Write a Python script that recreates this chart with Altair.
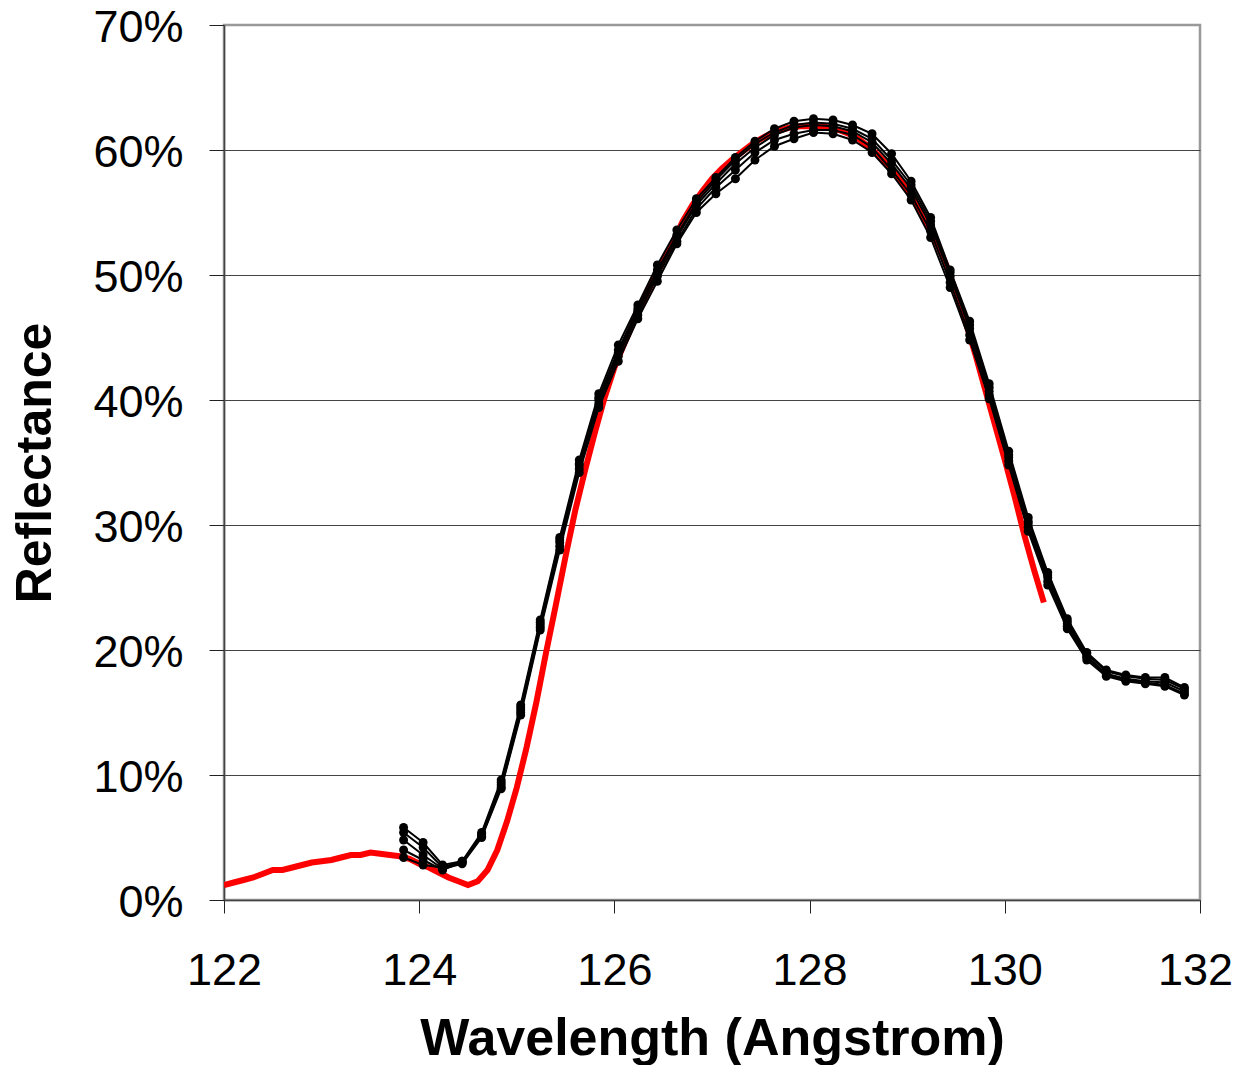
import altair as alt
import pandas as pd

# Measured wavelengths (Angstrom)
x_meas = [123.84, 124.04, 124.24, 124.44, 124.64, 124.84, 125.04, 125.24, 125.44, 125.64,
          125.84, 126.04, 126.24, 126.44, 126.64, 126.84, 127.04, 127.24, 127.44, 127.64,
          127.84, 128.04, 128.24, 128.44, 128.64, 128.84, 129.04, 129.24, 129.44, 129.64,
          129.84, 130.04, 130.24, 130.44, 130.64, 130.84, 131.04, 131.24, 131.44, 131.64,
          131.84]

# Measured reflectance series (%)
s1 = [5.8, 4.6, 2.8, 3.1, 5.4, 9.6, 15.6, 22.4, 29.0, 35.2, 40.5, 44.4, 47.6, 50.8, 53.6,
      56.1, 57.8, 59.4, 60.7, 61.7, 62.3, 62.5, 62.4, 62.0, 61.3, 59.7, 57.5, 54.6, 50.4,
      46.3, 41.3, 35.9, 30.6, 26.2, 22.5, 19.8, 18.4, 18.0, 17.8, 17.8, 17.0]
s2 = [5.4, 4.2, 2.6, 3.0, 5.2, 9.2, 15.2, 22.0, 28.6, 34.8, 40.0, 43.8, 47.1, 50.2, 53.0,
      55.6, 57.3, 58.9, 60.2, 61.2, 61.8, 62.0, 61.9, 61.5, 60.6, 58.9, 56.9, 54.0, 49.9,
      45.7, 40.7, 35.4, 30.1, 25.8, 22.1, 19.5, 18.1, 17.7, 17.5, 17.4, 16.7]
s3 = [4.8, 3.6, 2.5, 2.9, 5.0, 8.9, 14.8, 21.6, 28.0, 34.2, 39.4, 43.1, 46.5, 49.5, 52.5,
      55.0, 56.5, 57.7, 59.2, 60.3, 60.9, 61.4, 61.3, 60.8, 59.8, 58.1, 56.0, 53.0, 49.0,
      44.8, 40.1, 34.8, 29.5, 25.2, 21.7, 19.2, 17.9, 17.5, 17.3, 17.1, 16.4]
s4 = [4.0, 3.2, 2.4, 3.0, 5.3, 9.4, 15.4, 22.2, 28.8, 34.9, 40.2, 44.0, 47.3, 50.4, 53.2,
      55.8, 57.6, 59.2, 60.5, 61.4, 62.0, 62.2, 62.1, 61.7, 60.9, 59.2, 57.2, 54.3, 50.2,
      46.0, 41.0, 35.6, 30.3, 26.0, 22.3, 19.7, 18.3, 17.9, 17.7, 17.6, 16.9]
s5 = [3.4, 2.8, 2.6, 3.1, 5.1, 9.0, 15.0, 21.8, 28.3, 34.5, 39.7, 43.5, 46.8, 49.9, 52.7,
      55.3, 57.0, 58.4, 59.8, 60.8, 61.3, 61.6, 61.6, 61.2, 60.2, 58.4, 56.4, 53.5, 49.4,
      45.2, 40.4, 35.1, 29.8, 25.5, 21.9, 19.4, 18.0, 17.6, 17.4, 17.2, 16.5]
series_names = ["run 1", "run 2", "run 3", "run 4", "run 5"]

# Model curve (red)
x_model = [122.0, 122.1, 122.2, 122.3, 122.4, 122.5, 122.6, 122.7, 122.8, 122.9,
           123.0, 123.1, 123.2, 123.3, 123.4, 123.5, 123.6, 123.7, 123.8, 123.9,
           124.0, 124.1, 124.2, 124.3, 124.4, 124.5, 124.6, 124.7, 124.8, 124.9,
           125.0, 125.1, 125.2, 125.3, 125.4, 125.5, 125.6, 125.7, 125.8, 125.9,
           126.0, 126.1, 126.2, 126.3, 126.4, 126.5, 126.6, 126.7, 126.8, 126.9,
           127.0, 127.1, 127.2, 127.3, 127.4, 127.5, 127.6, 127.7, 127.8, 127.9,
           128.0, 128.1, 128.2, 128.3, 128.4, 128.5, 128.6, 128.7, 128.8, 128.9,
           129.0, 129.1, 129.2, 129.3, 129.4, 129.5, 129.6, 129.7, 129.8, 129.9,
           130.0, 130.1, 130.2, 130.3, 130.4]
r_model = [1.2, 1.4, 1.6, 1.8, 2.1, 2.4, 2.4, 2.6, 2.8, 3.0,
           3.1, 3.2, 3.4, 3.6, 3.6, 3.8, 3.7, 3.6, 3.5, 3.3,
           2.9, 2.6, 2.2, 1.8, 1.5, 1.2, 1.5, 2.4, 4.0, 6.3,
           9.0, 12.2, 15.8, 19.8, 23.6, 27.5, 31.2, 34.4, 37.4, 40.2,
           42.6, 44.5, 46.3, 48.0, 49.6, 51.1, 52.6, 54.3, 55.6, 56.7,
           57.7, 58.5, 59.2, 59.8, 60.4, 60.9, 61.3, 61.6, 61.8, 61.9,
           61.9, 61.9, 61.8, 61.6, 61.3, 60.9, 60.3, 59.6, 58.8, 57.9,
           56.8, 55.6, 54.2, 52.6, 50.8, 48.6, 46.2, 43.6, 40.8, 38.0,
           35.2, 32.3, 29.2, 26.4, 23.8]

x_ticks = [122, 124, 126, 128, 130, 132]
y_ticks = [0.0, 0.1, 0.2, 0.3, 0.4, 0.5, 0.6, 0.7]

rows = []
for name, vals in zip(series_names, [s1, s2, s3, s4, s5]):
    for x, v in zip(x_meas, vals):
        rows.append({"series": name, "wl": x, "R": v / 100.0})
meas = pd.DataFrame(rows)
model = pd.DataFrame({"wl": x_model, "R": [v / 100.0 for v in r_model]})

FONT = "Liberation Sans"

xscale = alt.Scale(domain=[122, 132], nice=False, zero=False)
yscale = alt.Scale(domain=[0, 0.7], nice=False, zero=True)

xaxis = alt.Axis(values=x_ticks, format="d", title="Wavelength (Angstrom)", grid=False,
                 labelFontSize=45, labelFont=FONT, labelColor="black",
                 labelPadding=35, tickSize=13, tickColor="#222", tickWidth=1,
                 labelOffset={"condition": {"test": "datum.value > 131", "value": -5}, "value": 0},
                 domainColor="#444", domainWidth=1.5,
                 titleFont=FONT, titleFontSize=52, titleFontWeight="bold",
                 titleColor="black", titlePadding=20, labelFlush=False)
yaxis = alt.Axis(values=y_ticks, format=".0%", title="Reflectance",
                 grid=True, gridColor="#444", gridWidth=1.2,
                 gridOpacity={"condition": {"test": "datum.value > 0.65", "value": 0}, "value": 1},
                 labelFontSize=45, labelFont=FONT, labelColor="black",
                 labelPadding=26, labelOffset=2, tickSize=15, tickColor="#222", tickWidth=1,
                 domainColor="#444", domainWidth=1.5,
                 titleFont=FONT, titleFontSize=50, titleFontWeight="bold",
                 titleColor="black", titlePadding=32, labelFlush=False)

red = alt.Chart(model).mark_line(color="#ff0000", strokeWidth=6, clip=True).encode(
    x=alt.X("wl:Q", scale=xscale, axis=xaxis),
    y=alt.Y("R:Q", scale=yscale, axis=yaxis),
    order="wl:Q",
)

black = alt.Chart(meas).mark_line(
    color="black", strokeWidth=2,
    point=alt.OverlayMarkDef(filled=True, size=80, color="black", opacity=1),
).encode(
    x=alt.X("wl:Q", scale=xscale),
    y=alt.Y("R:Q", scale=yscale),
    detail="series:N",
    order="wl:Q",
)

chart = alt.layer(red, black).properties(
    width=976, height=875,
    autosize=alt.AutoSizeParams(type="none"),
    padding={"left": 216, "top": 17, "right": 33, "bottom": 165},
    background="white",
).configure_view(stroke="#999999", strokeWidth=2.5)

chart.save("out.html", embed_options={"renderer": "svg", "actions": False})
